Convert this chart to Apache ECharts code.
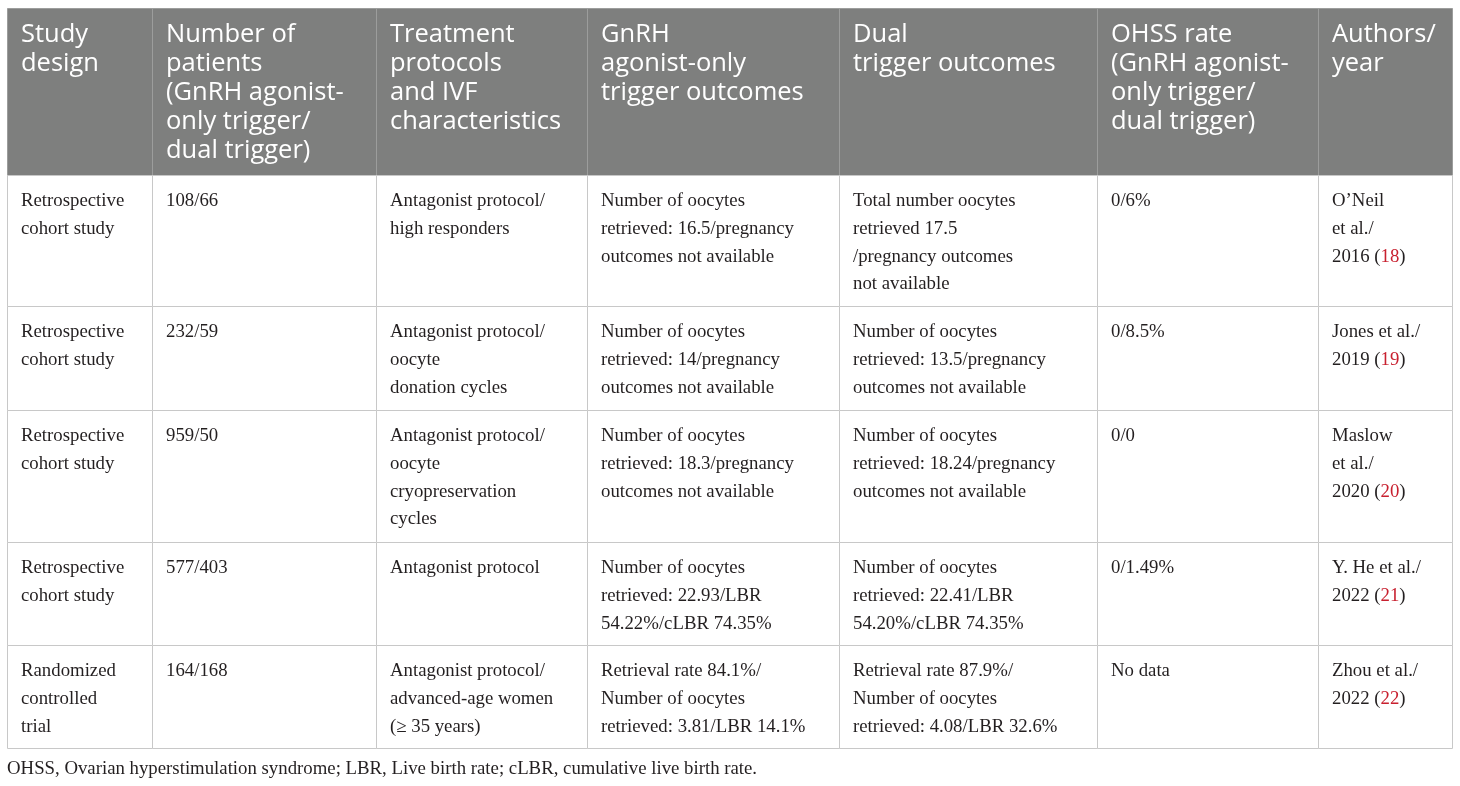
<!DOCTYPE html>
<html><head><meta charset="utf-8">
<script src="https://cdn.jsdelivr.net/npm/echarts@6/dist/echarts.min.js"></script>
<style>html,body{margin:0;padding:0;background:#fff}#c{width:1460px;height:786px}</style>
</head><body><div id="c"></div><script>
// ---- table content ----
const headers = [
  "Study\ndesign",
  "Number of\npatients\n(GnRH agonist-\nonly trigger/\ndual trigger)",
  "Treatment\nprotocols\nand IVF\ncharacteristics",
  "GnRH\nagonist-only\ntrigger outcomes",
  "Dual\ntrigger outcomes",
  "OHSS rate\n(GnRH agonist-\nonly trigger/\ndual trigger)",
  "Authors/\nyear"
];
const studyDesign = [
  "Retrospective\ncohort study",
  "Retrospective\ncohort study",
  "Retrospective\ncohort study",
  "Retrospective\ncohort study",
  "Randomized\ncontrolled\ntrial"
];
const patients = ["108/66", "232/59", "959/50", "577/403", "164/168"];
const protocols = [
  "Antagonist protocol/\nhigh responders",
  "Antagonist protocol/\noocyte\ndonation cycles",
  "Antagonist protocol/\noocyte\ncryopreservation\ncycles",
  "Antagonist protocol",
  "Antagonist protocol/\nadvanced-age women\n(\u2265 35 years)"
];
const agonistOutcomes = [
  "Number of oocytes\nretrieved: 16.5/pregnancy\noutcomes not available",
  "Number of oocytes\nretrieved: 14/pregnancy\noutcomes not available",
  "Number of oocytes\nretrieved: 18.3/pregnancy\noutcomes not available",
  "Number of oocytes\nretrieved: 22.93/LBR\n54.22%/cLBR 74.35%",
  "Retrieval rate 84.1%/\nNumber of oocytes\nretrieved: 3.81/LBR 14.1%"
];
const dualOutcomes = [
  "Total number oocytes\nretrieved 17.5\n/pregnancy outcomes\nnot available",
  "Number of oocytes\nretrieved: 13.5/pregnancy\noutcomes not available",
  "Number of oocytes\nretrieved: 18.24/pregnancy\noutcomes not available",
  "Number of oocytes\nretrieved: 22.41/LBR\n54.20%/cLBR 74.35%",
  "Retrieval rate 87.9%/\nNumber of oocytes\nretrieved: 4.08/LBR 32.6%"
];
const ohssRate = ["0/6%", "0/8.5%", "0/0", "0/1.49%", "No data"];
const authors = [
  "O\u2019Neil\net al./\n2016",
  "Jones et al./\n2019",
  "Maslow\net al./\n2020",
  "Y. He et al./\n2022",
  "Zhou et al./\n2022"
];
const refs = ["18", "19", "20", "21", "22"];
const footnote = "OHSS, Ovarian hyperstimulation syndrome; LBR, Live birth rate; cLBR, cumulative live birth rate.";

const bodyColumns = [studyDesign, patients, protocols, agonistOutcomes, dualOutcomes, ohssRate,
  authors.map((a, i) => a + " ({r|" + refs[i] + "})")];

// ---- layout ----
const colEdges = [0, 145, 369, 580, 832, 1090, 1311, 1445];
const rowEdges = [0, 167, 298, 402, 534, 637, 740];
const SERIF = "'Liberation Serif', 'DejaVu Serif', serif";
const SANS = "'Open Sans', 'Noto Sans', sans-serif";

const cells = [];
for (let r = 0; r < rowEdges.length - 1; r++) {
  for (let c = 0; c < colEdges.length - 1; c++) cells.push([c, r]);
}

function cellText(c, r) {
  return r === 0 ? headers[c] : bodyColumns[c][r - 1];
}

const chart = echarts.init(document.getElementById('c'), null, {renderer: 'canvas'});
chart.setOption({
  animation: false,
  backgroundColor: '#ffffff',
  title: {
    text: footnote, left: 7, top: 760, padding: 0,
    textStyle: {fontFamily: SERIF, fontSize: 18.8, fontWeight: 'normal', color: '#231f20'}
  },
  grid: {left: 7, right: 8, top: 8, bottom: 38},
  xAxis: {type: 'value', min: 0, max: colEdges[colEdges.length - 1], show: false},
  yAxis: {type: 'value', min: 0, max: rowEdges[rowEdges.length - 1], inverse: true, show: false},
  series: [{
    type: 'custom',
    coordinateSystem: 'cartesian2d',
    clip: false,
    silent: true,
    data: cells,
    renderItem: function (params, api) {
      const c = api.value(0), r = api.value(1);
      const p0 = api.coord([colEdges[c], rowEdges[r]]);
      const p1 = api.coord([colEdges[c + 1], rowEdges[r + 1]]);
      const x0 = Math.round(p0[0]) + 0.5, y0 = Math.round(p0[1]) + 0.5;
      const x1 = Math.round(p1[0]) + 0.5, y1 = Math.round(p1[1]) + 0.5;
      const isHead = r === 0;
      return {
        type: 'group',
        children: [
          {
            type: 'rect',
            shape: {x: x0, y: y0, width: x1 - x0, height: y1 - y0},
            style: {fill: isHead ? '#7e7f7e' : '#ffffff', stroke: isHead ? '#9c9d9c' : '#c8c8c8', lineWidth: 1},
            z2: isHead ? 0 : 1
          },
          {
            type: 'text',
            x: x0 + 13.5,
            y: y0 + 12,
            z2: 5,
            style: {
              text: cellText(c, r),
              fill: isHead ? '#ffffff' : '#231f20',
              fontFamily: isHead ? SANS : SERIF,
              fontSize: isHead ? 25.5 : 18.8,
              lineHeight: isHead ? 29 : 27.7,
              align: 'left',
              verticalAlign: 'top',
              rich: {
                r: {fill: '#c8202f', fontFamily: SERIF, fontSize: 18.8, lineHeight: 27.7}
              }
            }
          }
        ]
      };
    }
  }]
});
</script></body></html>
